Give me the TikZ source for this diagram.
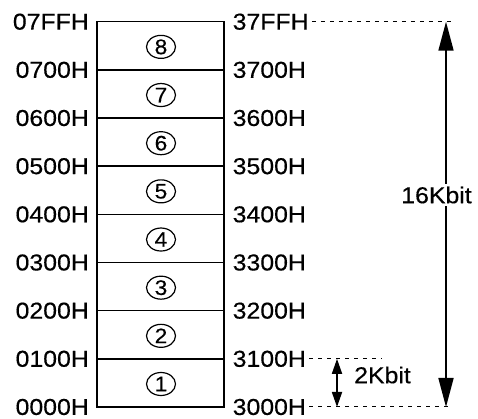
\documentclass[tikz,border=0pt]{standalone}
\usepackage{fontspec}
\setmainfont[FakeStretch=1.08,FakeBold=0.4]{Liberation Sans}
\usetikzlibrary{arrows.meta,shapes.geometric}
\begin{document}
\begin{tikzpicture}[x=1pt,y=1pt,
  lbl/.style={font=\fontsize{23}{24}\selectfont, inner sep=0pt},
  circnum/.style={ellipse, draw, line width=1.2pt, minimum width=29pt, minimum height=23pt, inner sep=0pt, font=\fontsize{21}{22}\selectfont},
  boxline/.style={line width=1.5pt},
  guide/.style={line width=1pt, dash pattern=on 4pt off 5pt},
  bigarrow/.style={line width=1.7pt, {Triangle[length=29pt,width=15pt]}-{Triangle[length=29pt,width=15pt]}},
  smallarrow/.style={line width=1.7pt, {Triangle[length=15pt,width=10pt]}-{Triangle[length=15pt,width=10pt]}}]
\useasboundingbox (0,0) rectangle (478,419);
% section boundaries
\foreach \i in {0,...,8} {
  \coordinate (L\i) at (97,{12+\i*48.16});
  \coordinate (R\i) at (224,{12+\i*48.16});
}
\draw[boxline] (L0) rectangle (R8);
\foreach \i in {1,...,7} { \draw[boxline] (L\i) -- (R\i); }
% left labels
\foreach \i/\t in {0/0000H,1/0100H,2/0200H,3/0300H,4/0400H,5/0500H,6/0600H,7/0700H,8/07FFH} {
  \node[lbl, anchor=east] (al\i) at ([xshift=-8pt]L\i) {\t};
}
% right labels
\foreach \i/\t in {0/3000H,1/3100H,2/3200H,3/3300H,4/3400H,5/3500H,6/3600H,7/3700H,8/37FFH} {
  \node[lbl, anchor=west] (ar\i) at ([xshift=8.5pt]R\i) {\t};
}
% circled numbers
\foreach \i/\t in {0/1,1/2,2/3,3/4,4/5,5/6,6/7,7/8} {
  \node[circnum] (c\i) at (161,{12+\i*48.16+23}) {\t};
}
% guide lines
\coordinate (g0) at (453,12);
\coordinate (g1) at (382,{12+48.16});
\coordinate (g8) at (453,{12+8*48.16});
\draw[guide] ([xshift=3pt]ar0.east) -- (g0);
\draw[guide] ([xshift=3pt]ar1.east) -- (g1);
\draw[guide] ([xshift=3pt]ar8.east) -- (g8);
% big arrow
\coordinate (bt) at (446,{12+8*48.16});
\coordinate (bb) at (446,12);
\draw[bigarrow] (bb) -- (bt);
\node[lbl, fill=white, inner sep=3pt] (k16) at (436.5,224) {16Kbit};
% small arrow
\coordinate (st) at (337,{12+48.16});
\coordinate (sb) at (337,12);
\draw[smallarrow] (sb) -- (st);
\node[lbl, anchor=west] (k2) at (354,44) {2Kbit};
\end{tikzpicture}
\end{document}
